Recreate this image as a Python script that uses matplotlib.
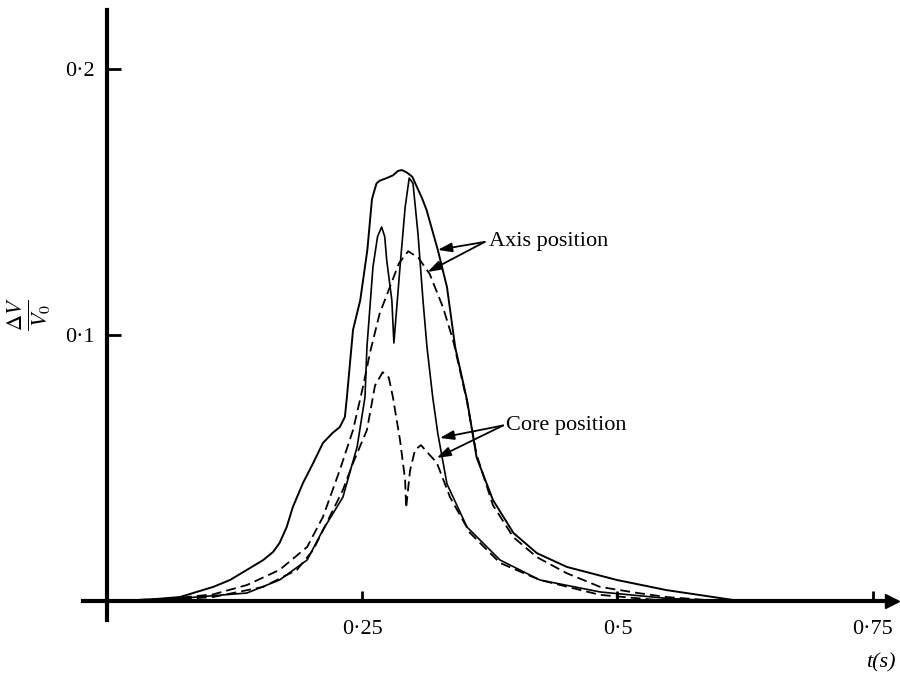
import matplotlib as mpl
import matplotlib.pyplot as plt

# axis position, solid (outer broad curve)
t_axis_solid = [0.0, 0.04, 0.0715, 0.104, 0.1205, 0.137, 0.153, 0.1626, 0.169, 0.176,
                0.182, 0.192, 0.202, 0.2115, 0.221, 0.228, 0.233, 0.235, 0.238, 0.241,
                0.248, 0.255, 0.2595, 0.2615, 0.264, 0.267, 0.274, 0.280, 0.285, 0.289,
                0.294, 0.299, 0.3036, 0.3085, 0.313, 0.324, 0.333, 0.341, 0.3526, 0.362,
                0.378, 0.398, 0.421, 0.4505, 0.4995, 0.548, 0.613, 0.66]
v_axis_solid = [0.0, 0.0005, 0.0015, 0.0053, 0.0079, 0.0117, 0.0154, 0.0184, 0.0218, 0.0278,
                0.0353, 0.0444, 0.0519, 0.0594, 0.0632, 0.0654, 0.0692, 0.0767, 0.0895, 0.102,
                0.113, 0.132, 0.151, 0.1538, 0.157, 0.158, 0.159, 0.160, 0.1617, 0.162,
                0.161, 0.1595, 0.1556, 0.1515, 0.147, 0.132, 0.118, 0.0955, 0.0756, 0.054,
                0.038, 0.0256, 0.018, 0.0128, 0.0079, 0.0041, 0.0004, 0.0]

# axis position, dashed
t_axis_dash = [0.0, 0.06, 0.104, 0.137, 0.169, 0.196, 0.2115, 0.228, 0.241, 0.25,
               0.258, 0.267, 0.277, 0.286, 0.295, 0.305, 0.316, 0.329, 0.339, 0.3526,
               0.362, 0.378, 0.398, 0.421, 0.45, 0.483, 0.52, 0.548, 0.6]
v_axis_dash = [0.0, 0.0008, 0.0025, 0.006, 0.0117, 0.0203, 0.0316, 0.0492, 0.0643, 0.0793,
               0.094, 0.108, 0.118, 0.127, 0.1315, 0.129, 0.123, 0.1105, 0.098, 0.075,
               0.055, 0.036, 0.024, 0.0165, 0.0105, 0.0053, 0.003, 0.0015, 0.0]

# core position, solid (double peak)
t_core_solid = [0.0, 0.0715, 0.137, 0.169, 0.196, 0.2115, 0.231, 0.245, 0.2527, 0.2546,
                0.2605, 0.265, 0.269, 0.272, 0.274, 0.279, 0.281, 0.287, 0.292, 0.296,
                0.2997, 0.3046, 0.3095, 0.3134, 0.319, 0.324, 0.333, 0.3526, 0.385, 0.424,
                0.483, 0.548, 0.6]
v_core_solid = [0.0, 0.001, 0.003, 0.0079, 0.0154, 0.0267, 0.039, 0.058, 0.0767, 0.0955,
                0.1256, 0.137, 0.1406, 0.137, 0.128, 0.113, 0.097, 0.1256, 0.148, 0.159,
                0.157, 0.138, 0.113, 0.0955, 0.0767, 0.063, 0.044, 0.0278, 0.0154, 0.0079,
                0.0034, 0.001, 0.0]

# core position, dashed (double peak)
t_core_dash = [0.0, 0.06, 0.104, 0.153, 0.186, 0.202, 0.218, 0.231, 0.241, 0.2546,
               0.2625, 0.270, 0.276, 0.280, 0.287, 0.292, 0.293, 0.2968, 0.3017, 0.3075,
               0.3144, 0.323, 0.336, 0.3555, 0.385, 0.424, 0.483, 0.55]
v_core_dash = [0.0, 0.0004, 0.0015, 0.0053, 0.0117, 0.0192, 0.0316, 0.0417, 0.0519, 0.0643,
               0.081, 0.086, 0.084, 0.0767, 0.0605, 0.0455, 0.035, 0.049, 0.0568, 0.0586,
               0.0556, 0.052, 0.039, 0.0256, 0.0143, 0.0079, 0.0023, 0.0]

x_ticks = [0.25, 0.5, 0.75]
x_labels = ['0·25', '0·5', '0·75']
y_ticks = [0.1, 0.2]
y_labels = ['0·1', '0·2']

mpl.rcParams.update({'font.family': 'Liberation Serif', 'font.size': 16,
                     'mathtext.fontset': 'stix'})

dpi = 100
fig = plt.figure(dpi=dpi, figsize=(900 / dpi, 674 / dpi))
ax = fig.add_axes([0, 0, 1, 1])
ax.set_xlim(-0.1048, 0.7767)
ax.set_ylim(-0.02744, 0.22594)

for s in ['top', 'right']:
    ax.spines[s].set_visible(False)
ax.spines['left'].set_position(('data', 0))
ax.spines['bottom'].set_position(('data', 0))
ax.spines['left'].set_bounds(-0.0071, 0.2222)
ax.spines['bottom'].set_bounds(-0.0235, 0.77)
ax.spines['left'].set_linewidth(3)
ax.spines['bottom'].set_linewidth(3)
ax.plot([0.769], [0], marker='>', ms=10, color='k', clip_on=False)

ax.set_xticks(x_ticks)
ax.set_xticklabels(x_labels)
ax.set_yticks(y_ticks)
ax.set_yticklabels(y_labels)
ax.tick_params(axis='x', direction='in', length=7, width=2, pad=14)
ax.tick_params(axis='y', direction='in', length=10, width=2, pad=9)

ax.plot(t_axis_solid, v_axis_solid, color='k', lw=1.4, solid_joinstyle='round')
ax.plot(t_core_solid, v_core_solid, color='k', lw=1.2, solid_joinstyle='round')
ax.plot(t_axis_dash, v_axis_dash, color='k', lw=1.3, dashes=(5.5, 2.8))
ax.plot(t_core_dash, v_core_dash, color='k', lw=1.3, dashes=(5.5, 2.8))

arrow = dict(arrowstyle='-|>,head_length=0.6,head_width=0.2', color='k', lw=1.3,
             shrinkA=0, shrinkB=0, mutation_scale=14)
ax.annotate('', xy=(0.324, 0.132), xytext=(0.370, 0.135), arrowprops=arrow)
ax.annotate('', xy=(0.314, 0.1237), xytext=(0.370, 0.135), arrowprops=arrow)
ax.text(0.374, 0.135, 'Axis position', ha='left', va='center', fontsize=16)

ax.annotate('', xy=(0.326, 0.0613), xytext=(0.388, 0.066), arrowprops=arrow)
ax.annotate('', xy=(0.323, 0.0538), xytext=(0.388, 0.066), arrowprops=arrow)
ax.text(0.391, 0.066, 'Core position', ha='left', va='center', fontsize=16)

ax.text(0.758, -0.0233, 't(s)', style='italic', ha='center', va='center', fontsize=16)
ax.text(-0.0764, 0.108, r'$\frac{\Delta V}{V_0}$', rotation=90,
        ha='center', va='center', fontsize=23)

fig.savefig('out.png')
